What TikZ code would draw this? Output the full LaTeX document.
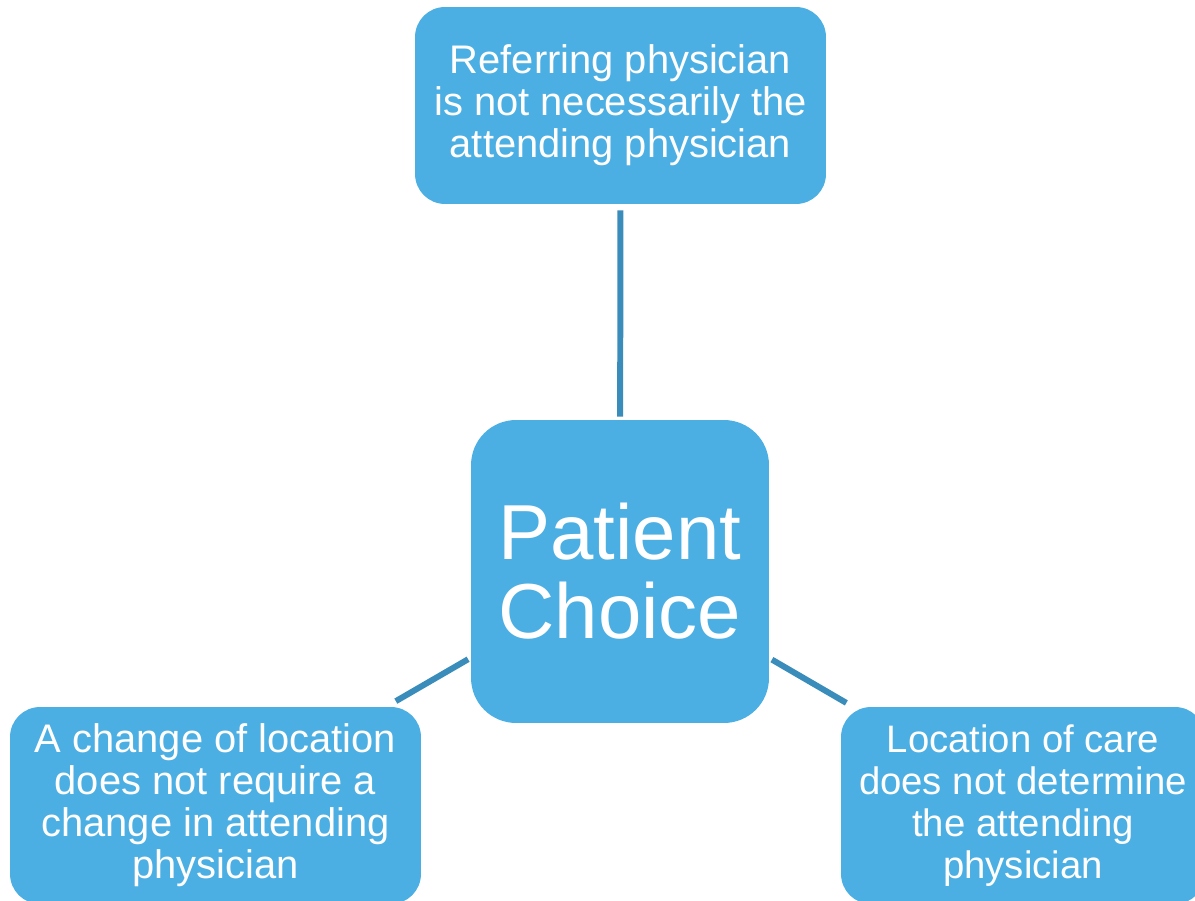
\documentclass[tikz,border=0pt]{standalone}
\usepackage{fontspec}
\setmainfont{Liberation Sans}
\usepackage{tikz}
\definecolor{boxblue}{HTML}{4BAFE3}
\definecolor{linkblue}{HTML}{3A8DBA}
\tikzstyle{box}=[rectangle,rounded corners=0.6cm,fill=boxblue,text=white,align=center,
    minimum height=3.94cm,inner sep=0pt,font=\fontsize{22.7}{23.9}\selectfont]
\tikzstyle{hub}=[rectangle,rounded corners=0.9cm,fill=boxblue,text=white,align=center,
    minimum width=5.96cm,minimum height=6.06cm,inner sep=0pt,font=\fontsize{44.4}{45}\selectfont]
\tikzstyle{link} = [draw,linkblue,line width=3.4pt]

\begin{document}
\begin{tikzpicture}[x=0.02cm, y=-0.02cm]
    \useasboundingbox (0,0) rectangle (1195,901);

    \node[hub] (choice) at (620,571.5) {Patient\\Choice};
    \node[box,minimum width=8.22cm] (refer) at (620.5,105.5)
        {Referring physician\\is not necessarily the\\attending physician};
    \node[box,minimum width=8.22cm] (change) at (215.5,805.5)
        {A change of location\\does not require a\\change in attending\\physician};
    \node[box,minimum width=7.28cm,font=\fontsize{21.8}{23.9}\selectfont] (place) at (1023,805.5)
        {Location of care\\does not determine\\the attending\\physician};

    \foreach \dest/\gap in {refer/0.12cm,change/0.22cm,place/0.15cm}
        \path[link,shorten <=0.06cm,shorten >=\gap] (choice) -- (\dest);
\end{tikzpicture}
\end{document}
